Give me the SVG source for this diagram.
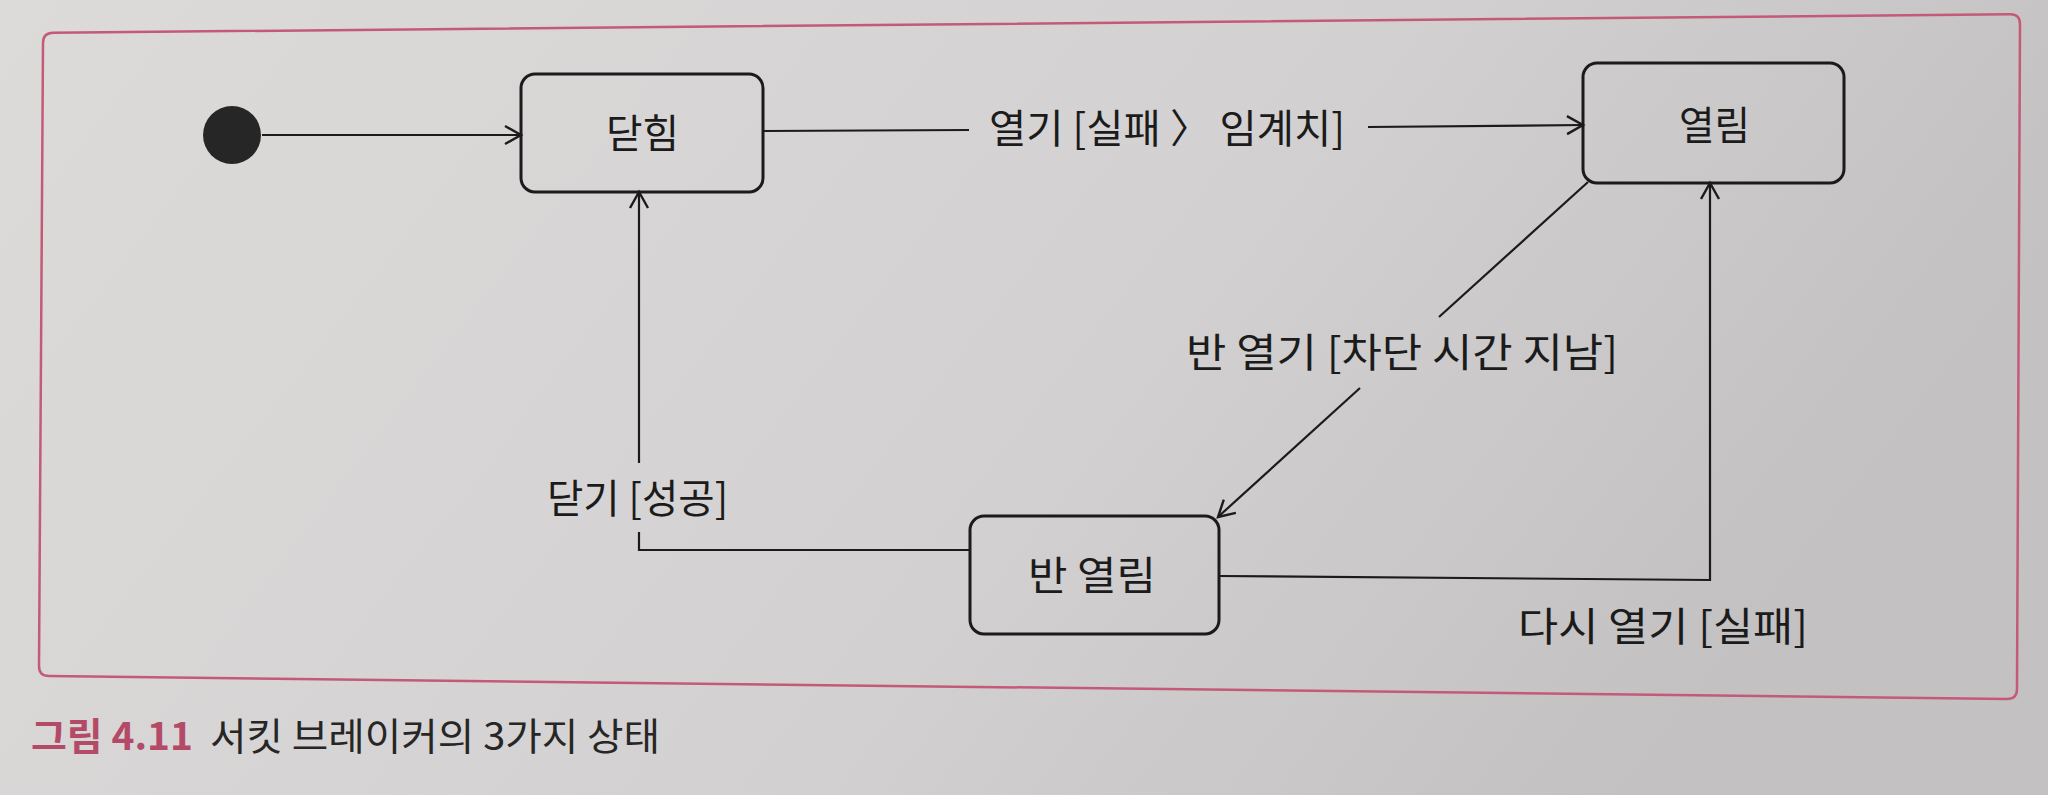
<svg xmlns="http://www.w3.org/2000/svg" width="2048" height="795" viewBox="0 0 2048 795">
<defs>
<linearGradient id="bg" x1="0" y1="0" x2="1" y2="0.3">
<stop offset="0" stop-color="#dddbda"/>
<stop offset="0.6" stop-color="#d3d1d1"/>
<stop offset="1" stop-color="#c3c1c2"/>
</linearGradient>
<marker id="arr" markerUnits="userSpaceOnUse" markerWidth="24" markerHeight="24" refX="17" refY="10" orient="auto" overflow="visible">
<path d="M1,1 L17,10 L1,19" fill="none" stroke="#1b1b1b" stroke-width="2.4"/>
</marker>
<style>
.node rect{fill:none;stroke:#1b1b1b;stroke-width:3}
.lbl{font-family:"Noto Sans CJK KR","Noto Sans",sans-serif;font-size:40px;fill:#1b1b1b}
.edge{fill:none;stroke:#1b1b1b;stroke-width:2.2}
.cap{font-family:"Noto Sans CJK KR","Noto Sans",sans-serif;font-size:38px}
</style>
</defs>
<rect width="2048" height="795" fill="url(#bg)"/>
<path d="M53,32.8 L2010,14.2 Q2020,14 2020,24 L2017,689 Q2017,699 2007,699 L49,676 Q39,676 39,666 L43,43 Q43,33 53,32.8 Z" fill="none" stroke="#c45a78" stroke-width="2.5"/>

<g id="initial">
<circle cx="232" cy="135" r="29" fill="#262626"/>
</g>

<g id="closed" class="node">
<rect x="521" y="74" width="242" height="118" rx="14"/>
<text class="lbl" x="606" y="148" textLength="73" lengthAdjust="spacingAndGlyphs">닫힘</text>
</g>

<g id="open" class="node">
<rect x="1583" y="63" width="261" height="120" rx="14"/>
<text class="lbl" x="1679" y="140" textLength="71" lengthAdjust="spacingAndGlyphs">열림</text>
</g>

<g id="halfopen" class="node">
<rect x="970" y="516" width="249" height="118" rx="14"/>
<text class="lbl" x="1028" y="590" textLength="128" lengthAdjust="spacingAndGlyphs">반 열림</text>
</g>

<g id="connectors">
<path class="edge" d="M262,135 L521,135" marker-end="url(#arr)"/>
<path class="edge" d="M763,131 L969,130 M1368,127 L1583,125" marker-end="url(#arr)"/>
<path class="edge" d="M1588,182 L1439,317 M1360,388 L1218,517" marker-end="url(#arr)"/>
<path class="edge" d="M1219,576 L1710,580 L1710,183" marker-end="url(#arr)"/>
<path class="edge" d="M970,550 L639,550 L639,532 M639,463 L639,192" marker-end="url(#arr)"/>
<text class="lbl" x="989" y="143" textLength="356" lengthAdjust="spacingAndGlyphs">열기 [실패 〉 임계치]</text>
<text class="lbl" x="1186" y="367" textLength="432" lengthAdjust="spacingAndGlyphs">반 열기 [차단 시간 지남]</text>
<text class="lbl" x="547" y="513" textLength="181" lengthAdjust="spacingAndGlyphs">닫기 [성공]</text>
<text class="lbl" x="1518" y="641" textLength="290" lengthAdjust="spacingAndGlyphs">다시 열기 [실패]</text>
</g>

<g id="caption">
<text class="cap" x="31" y="750" textLength="162" lengthAdjust="spacingAndGlyphs" font-weight="bold" fill="#b34a68">그림 4.11</text>
<text class="cap" x="210" y="750" textLength="450" lengthAdjust="spacingAndGlyphs" fill="#262626">서킷 브레이커의 3가지 상태</text>
</g>
</svg>
